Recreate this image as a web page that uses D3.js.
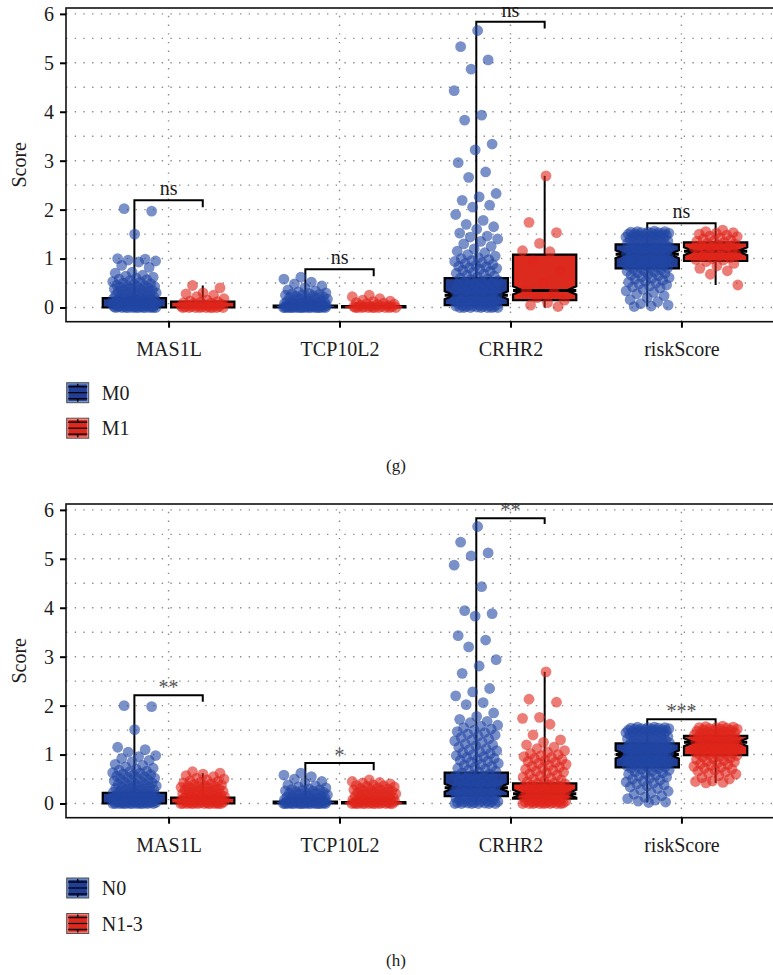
<!DOCTYPE html>
<html><head><meta charset="utf-8">
<script src="https://cdn.jsdelivr.net/npm/d3@7"></script>
<style>
body{margin:0;background:#fff}
svg{display:block}
</style>
</head><body>
<svg id="chart" width="773" height="975"></svg>
<script>
// ---------- data ----------
const categories = ["MAS1L","TCP10L2","CRHR2","riskScore"];
const yTicks = [0,1,2,3,4,5,6];

// Panel (g): M0 vs M1
const gGroups = ["M0","M1"];
const gM0_MAS1L = [2.02,1.97,1.50,1.00,0.99,0.97,0.95,0.93,0.86,0.82,0.72,0.70,0.66,0.64,0.62,0.60,0.58,0.57,0.55,0.53,0.52,0.50,0.49,0.48,0.46,0.45,0.44,0.43,0.42,0.41,0.40,0.39,0.38,0.37,0.36,0.35,0.34,0.33,0.32,0.31,0.30,0.29,0.28,0.27,0.26,0.25,0.24,0.23,0.22,0.21,0.20,0.20,0.19,0.18,0.18,0.17,0.16,0.16,0.15,0.15,0.14,0.14,0.13,0.13,0.12,0.12,0.11,0.11,0.10,0.10,0.09,0.09,0.08,0.08,0.07,0.07,0.06,0.06,0.05,0.05,0.05,0.04,0.04,0.04,0.03,0.03,0.03,0.02,0.02,0.02,0.01,0.01,0.01,0.00,0.00,0.00,0.00,0.00,0.00,0.00,0.00,0.00,0.00,0.00,0.00];
const gM1_MAS1L = [0.45,0.40,0.30,0.28,0.25,0.22,0.18,0.15,0.13,0.12,0.11,0.10,0.09,0.08,0.07,0.06,0.05,0.05,0.04,0.03,0.03,0.02,0.02,0.01,0.01,0.00,0.00,0.00,0.00,0.00,0.00,0.00,0.00,0.00];
const gM0_TCP10L2 = [0.62,0.58,0.52,0.48,0.44,0.40,0.36,0.34,0.32,0.30,0.29,0.28,0.27,0.26,0.25,0.24,0.23,0.22,0.21,0.20,0.19,0.18,0.17,0.16,0.15,0.14,0.13,0.12,0.12,0.11,0.10,0.10,0.09,0.09,0.08,0.08,0.07,0.07,0.06,0.06,0.05,0.05,0.04,0.04,0.03,0.03,0.03,0.02,0.02,0.02,0.01,0.01,0.01,0.00,0.00,0.00,0.00,0.00,0.00,0.00,0.00,0.00,0.00,0.00,0.00,0.00,0.00,0.00,0.00,0.00];
const gM1_TCP10L2 = [0.25,0.22,0.18,0.15,0.13,0.12,0.10,0.09,0.08,0.07,0.06,0.05,0.04,0.03,0.02,0.02,0.01,0.01,0.00,0.00,0.00,0.00,0.00,0.00,0.00,0.00,0.00,0.00];
const gM0_CRHR2 = [5.66,5.33,5.06,4.87,4.43,3.93,3.83,3.34,3.22,2.96,2.77,2.66,2.33,2.26,2.19,2.09,2.05,1.90,1.78,1.70,1.65,1.60,1.52,1.46,1.44,1.40,1.35,1.30,1.25,1.20,1.15,1.12,1.08,1.05,1.02,1.00,0.98,0.96,0.94,0.92,0.90,0.88,0.86,0.84,0.83,0.81,0.80,0.78,0.76,0.74,0.72,0.70,0.68,0.66,0.64,0.62,0.60,0.58,0.57,0.55,0.54,0.52,0.50,0.48,0.47,0.45,0.44,0.42,0.40,0.39,0.38,0.36,0.35,0.34,0.33,0.32,0.30,0.29,0.28,0.27,0.26,0.25,0.24,0.23,0.22,0.21,0.20,0.19,0.18,0.17,0.16,0.15,0.14,0.13,0.12,0.11,0.10,0.09,0.08,0.07,0.06,0.05,0.05,0.04,0.04,0.03,0.03,0.02,0.02,0.01,0.01,0.00,0.00,0.00,0.00,0.00,0.00,0.00];
const gM1_CRHR2 = [2.69,1.74,1.53,1.31,1.16,1.14,0.95,0.75,0.50,0.35,0.30,0.20,0.15,0.10,0.05,0.02];
const gM0_riskScore = [1.56,1.55,1.55,1.54,1.54,1.53,1.53,1.52,1.52,1.51,1.51,1.50,1.50,1.49,1.48,1.48,1.47,1.46,1.46,1.45,1.44,1.43,1.42,1.41,1.40,1.39,1.38,1.37,1.36,1.35,1.34,1.33,1.32,1.31,1.30,1.29,1.28,1.27,1.26,1.25,1.24,1.23,1.22,1.21,1.20,1.19,1.18,1.17,1.16,1.15,1.14,1.13,1.12,1.11,1.10,1.09,1.08,1.07,1.06,1.05,1.04,1.03,1.02,1.01,1.00,0.99,0.98,0.97,0.96,0.95,0.94,0.93,0.92,0.91,0.90,0.89,0.88,0.87,0.86,0.85,0.84,0.83,0.82,0.81,0.80,0.78,0.77,0.75,0.74,0.72,0.71,0.70,0.68,0.66,0.65,0.63,0.61,0.60,0.58,0.56,0.54,0.52,0.50,0.48,0.46,0.44,0.42,0.40,0.37,0.34,0.31,0.28,0.24,0.20,0.16,0.12,0.08,0.05,0.03,0.02];
const gM1_riskScore = [1.58,1.55,1.53,1.52,1.50,1.48,1.46,1.45,1.42,1.40,1.38,1.36,1.35,1.33,1.31,1.30,1.28,1.26,1.25,1.23,1.22,1.20,1.18,1.16,1.15,1.13,1.12,1.10,1.08,1.06,1.05,1.02,1.00,0.98,0.97,0.94,0.90,0.85,0.80,0.75,0.68,0.46];
// box stats per category: [lower whisker, q1, median, q3, upper whisker]
const gBoxM0 = [[0,0,0.09,0.19,0.45],[0,0,0.02,0.04,0.10],[0,0.05,0.25,0.60,1.40],[0.02,0.80,1.09,1.29,1.55]];
const gBoxM1 = [[0,0,0.06,0.12,0.45],[0,0,0.01,0.03,0.07],[0,0.15,0.35,1.08,2.69],[0.46,0.95,1.15,1.33,1.58]];
const gBracketY = [2.19,0.78,5.84,1.72];
const gBracketLeftEnd = [0.19,0.04,0.60,1.58];
const gBracketRightEnd = [2.05,0.64,5.70,1.58];
const gSig = ["ns","ns","ns","ns"];

// Panel (h): N0 vs N1-3
const hGroups = ["N0","N1-3"];
const hN0_MAS1L = [2.00,1.98,1.51,1.15,1.10,1.05,0.98,0.96,0.92,0.88,0.85,0.80,0.78,0.75,0.72,0.70,0.68,0.66,0.65,0.63,0.62,0.60,0.59,0.58,0.56,0.55,0.54,0.52,0.51,0.50,0.48,0.47,0.46,0.44,0.43,0.42,0.40,0.39,0.38,0.37,0.36,0.35,0.34,0.33,0.32,0.31,0.30,0.29,0.28,0.27,0.26,0.25,0.24,0.23,0.22,0.21,0.20,0.20,0.19,0.18,0.18,0.17,0.16,0.16,0.15,0.15,0.14,0.14,0.13,0.13,0.12,0.12,0.11,0.11,0.10,0.10,0.09,0.09,0.08,0.08,0.07,0.07,0.06,0.06,0.05,0.05,0.05,0.04,0.04,0.04,0.03,0.03,0.03,0.02,0.02,0.02,0.01,0.01,0.01,0.00,0.00,0.00,0.00,0.00,0.00,0.00,0.00,0.00,0.00,0.00,0.00];
const hN13_MAS1L = [0.65,0.62,0.60,0.57,0.55,0.52,0.50,0.48,0.46,0.45,0.43,0.42,0.40,0.39,0.38,0.37,0.36,0.35,0.34,0.33,0.32,0.31,0.30,0.29,0.28,0.27,0.26,0.25,0.24,0.23,0.22,0.21,0.20,0.19,0.18,0.18,0.17,0.16,0.15,0.15,0.14,0.13,0.13,0.12,0.11,0.11,0.10,0.10,0.09,0.09,0.08,0.08,0.07,0.07,0.06,0.06,0.05,0.05,0.04,0.04,0.03,0.03,0.02,0.02,0.01,0.01,0.00,0.00,0.00,0.00,0.00,0.00,0.00,0.00,0.00,0.00,0.00,0.00];
const hN0_TCP10L2 = [0.62,0.58,0.55,0.50,0.45,0.42,0.38,0.36,0.34,0.32,0.30,0.29,0.28,0.27,0.26,0.25,0.24,0.23,0.22,0.21,0.20,0.19,0.18,0.17,0.16,0.15,0.14,0.13,0.12,0.12,0.11,0.10,0.10,0.09,0.09,0.08,0.08,0.07,0.07,0.06,0.06,0.05,0.05,0.04,0.04,0.03,0.03,0.03,0.02,0.02,0.02,0.01,0.01,0.01,0.00,0.00,0.00,0.00,0.00,0.00,0.00,0.00,0.00,0.00,0.00,0.00,0.00,0.00,0.00,0.00];
const hN13_TCP10L2 = [0.48,0.45,0.43,0.42,0.40,0.38,0.37,0.36,0.35,0.34,0.32,0.31,0.30,0.29,0.28,0.27,0.26,0.25,0.24,0.23,0.22,0.21,0.20,0.19,0.18,0.17,0.16,0.15,0.14,0.13,0.12,0.11,0.10,0.09,0.08,0.08,0.07,0.07,0.06,0.06,0.05,0.05,0.04,0.04,0.03,0.03,0.02,0.02,0.01,0.01,0.00,0.00,0.00,0.00,0.00,0.00,0.00,0.00,0.00,0.00,0.00,0.00];
const hN0_CRHR2 = [5.66,5.34,5.12,5.06,4.87,4.43,3.94,3.88,3.83,3.43,3.34,3.20,2.94,2.81,2.66,2.35,2.28,2.20,2.06,2.02,1.85,1.78,1.72,1.68,1.65,1.60,1.58,1.55,1.52,1.50,1.47,1.45,1.42,1.40,1.38,1.35,1.32,1.30,1.28,1.25,1.22,1.20,1.18,1.15,1.12,1.10,1.08,1.06,1.04,1.02,1.00,0.98,0.96,0.94,0.92,0.90,0.88,0.86,0.84,0.82,0.80,0.78,0.76,0.74,0.72,0.70,0.68,0.66,0.64,0.62,0.60,0.58,0.56,0.54,0.52,0.50,0.48,0.46,0.44,0.42,0.40,0.38,0.36,0.35,0.34,0.33,0.32,0.31,0.30,0.29,0.28,0.27,0.26,0.25,0.24,0.23,0.22,0.21,0.20,0.19,0.18,0.17,0.16,0.15,0.14,0.13,0.12,0.11,0.10,0.09,0.08,0.07,0.06,0.05,0.04,0.04,0.03,0.03,0.02,0.02,0.01,0.01,0.00,0.00,0.00,0.00,0.00,0.00];
const hN13_CRHR2 = [2.69,2.13,2.07,1.76,1.74,1.62,1.40,1.30,1.25,1.20,1.15,1.12,1.08,1.05,1.02,1.00,0.98,0.96,0.94,0.92,0.90,0.88,0.86,0.84,0.82,0.80,0.78,0.76,0.74,0.72,0.70,0.68,0.66,0.64,0.62,0.60,0.58,0.56,0.54,0.52,0.50,0.48,0.46,0.44,0.42,0.41,0.40,0.38,0.37,0.36,0.35,0.34,0.33,0.32,0.31,0.30,0.29,0.28,0.27,0.26,0.25,0.24,0.23,0.22,0.21,0.20,0.19,0.18,0.17,0.16,0.15,0.14,0.13,0.12,0.11,0.10,0.09,0.08,0.07,0.06,0.05,0.05,0.04,0.04,0.03,0.03,0.02,0.02,0.01,0.01,0.00,0.00,0.00,0.00,0.00,0.00,0.00,0.00];
const hN0_riskScore = [1.56,1.56,1.55,1.55,1.54,1.54,1.53,1.53,1.52,1.52,1.51,1.51,1.50,1.50,1.49,1.48,1.48,1.47,1.46,1.46,1.45,1.44,1.43,1.42,1.41,1.40,1.39,1.38,1.37,1.36,1.35,1.34,1.33,1.32,1.31,1.30,1.29,1.28,1.27,1.26,1.25,1.24,1.23,1.22,1.21,1.20,1.19,1.18,1.17,1.16,1.15,1.14,1.13,1.12,1.11,1.10,1.09,1.08,1.07,1.06,1.05,1.04,1.03,1.02,1.01,1.00,0.99,0.98,0.97,0.96,0.95,0.94,0.93,0.92,0.91,0.90,0.89,0.88,0.87,0.86,0.85,0.84,0.83,0.82,0.81,0.80,0.79,0.78,0.77,0.76,0.75,0.74,0.73,0.72,0.71,0.70,0.68,0.66,0.65,0.63,0.61,0.60,0.58,0.56,0.54,0.52,0.50,0.48,0.46,0.44,0.42,0.40,0.38,0.36,0.34,0.31,0.28,0.25,0.22,0.19,0.16,0.13,0.10,0.07,0.05,0.03,0.02];
const hN13_riskScore = [1.58,1.57,1.56,1.55,1.55,1.54,1.53,1.52,1.52,1.51,1.50,1.49,1.48,1.47,1.46,1.45,1.44,1.43,1.42,1.41,1.40,1.39,1.38,1.37,1.36,1.35,1.34,1.33,1.32,1.31,1.30,1.29,1.28,1.27,1.26,1.25,1.24,1.23,1.22,1.21,1.20,1.19,1.18,1.17,1.16,1.15,1.14,1.13,1.12,1.11,1.10,1.09,1.08,1.07,1.06,1.05,1.04,1.03,1.02,1.01,1.00,0.99,0.98,0.96,0.95,0.93,0.92,0.90,0.88,0.86,0.85,0.83,0.81,0.80,0.78,0.76,0.74,0.72,0.70,0.68,0.66,0.64,0.62,0.60,0.57,0.53,0.50,0.46,0.45,0.43,0.42];
const hBoxN0 = [[0,0,0.10,0.22,0.50],[0,0,0.02,0.04,0.10],[0,0.15,0.32,0.63,1.40],[0.02,0.74,1.00,1.23,1.56]];
const hBoxN13 = [[0,0,0.06,0.12,0.62],[0,0,0.01,0.03,0.07],[0,0.10,0.20,0.41,2.69],[0.42,0.99,1.25,1.38,1.58]];
const hBracketY = [2.21,0.83,5.83,1.72];
const hBracketLeftEnd = [0.22,0.04,0.63,1.58];
const hBracketRightEnd = [2.08,0.68,5.71,1.58];
const hSig = ["**","*","**","***"];

// ---------- styles ----------
const FONT = "'Liberation Serif','Times New Roman',Times,serif";
const boxFill = ["#223f95","#dc2a1e"];
const pointFill = ["#2146a4","#e0241a"];
const keyBorder = ["#7d9cc8","#f08a86"];

const svg = d3.select("#chart");

function drawPanel(cfg) {
  const off = cfg.offset;
  const left = 66, right = 784, plotTop = 8 + off, plotBottom = 321.7 + off;
  const x = d3.scalePoint().domain(categories).range([left, right]).padding(0.6);
  const step = x.step();
  const y = d3.scaleLinear().domain([-0.29, 6.12]).range([plotBottom, plotTop]);
  const g = svg.append("g");

  // grid
  g.selectAll(".hg").data(d3.range(0, 6.01, 0.5)).join("line")
    .attr("x1", left).attr("x2", right).attr("y1", d => y(d)).attr("y2", d => y(d))
    .attr("stroke", "#8c8c8c").attr("stroke-width", 1.4).attr("stroke-dasharray", "1.4,7.3");
  g.selectAll(".vg").data(categories).join("line")
    .attr("x1", d => x(d)).attr("x2", d => x(d)).attr("y1", plotBottom).attr("y2", plotTop)
    .attr("stroke", "#8c8c8c").attr("stroke-width", 1.4).attr("stroke-dasharray", "1.4,7.3");

  const dodge = 0.2 * step, bw = 0.37 * step, jit = 0.13 * step;

  // boxes
  cfg.boxes.forEach((boxes, gi) => {
    boxes.forEach((b, ci) => {
      const cx = x(categories[ci]) + (gi === 0 ? -dodge : dodge);
      const [lo, q1, med, q3, hi] = b;
      g.append("line").attr("x1", cx).attr("x2", cx).attr("y1", y(q3)).attr("y2", y(hi))
        .attr("stroke", "#000").attr("stroke-width", 2);
      g.append("line").attr("x1", cx).attr("x2", cx).attr("y1", y(q1)).attr("y2", y(lo))
        .attr("stroke", "#000").attr("stroke-width", 2);
      const x0 = cx - bw / 2, x1 = cx + bw / 2;
      const yt = y(q3), yb = y(q1), ym = y(med);
      const hgt = yb - yt;
      const ind = 0.15 * bw;
      let path;
      if (hgt > 12) {
        const nh = 4;
        path = `M${x0},${yt}L${x1},${yt}L${x1},${ym - nh}L${x1 - ind},${ym}L${x1},${ym + nh}L${x1},${yb}L${x0},${yb}L${x0},${ym + nh}L${x0 + ind},${ym}L${x0},${ym - nh}Z`;
      } else {
        path = `M${x0},${yt}L${x1},${yt}L${x1},${yb}L${x0},${yb}Z`;
      }
      g.append("path").attr("d", path).attr("fill", boxFill[gi]).attr("stroke", "#000")
        .attr("stroke-width", 2.2).attr("stroke-linejoin", "miter");
      g.append("line").attr("x1", hgt > 12 ? x0 : x0 + 3).attr("x2", hgt > 12 ? x1 : x1 - 3)
        .attr("y1", ym).attr("y2", ym)
        .attr("stroke", hgt > 12 ? "#000" : boxFill[gi]).attr("stroke-width", hgt > 12 ? 3 : 1.6);
    });
  });

  // brackets
  categories.forEach((c, ci) => {
    const xl = x(c) - dodge, xr = x(c) + dodge;
    const yb = y(cfg.bracketY[ci]);
    g.append("path")
      .attr("d", `M${xl},${y(cfg.bracketLeft[ci])}L${xl},${yb}L${xr},${yb}L${xr},${y(cfg.bracketRight[ci])}`)
      .attr("fill", "none").attr("stroke", "#000").attr("stroke-width", 2);
  });

  // points
  cfg.points.forEach((grp, gi) => {
    grp.forEach((vals, ci) => {
      const cx = x(categories[ci]) + (gi === 0 ? -dodge : dodge);
      g.append("g").selectAll("circle").data(vals).join("circle")
        .attr("cx", (d, i) => cx + (((i * 0.6180339887 + 0.27 + ci * 0.13) % 1) - 0.5) * 2 * jit)
        .attr("cy", d => y(d))
        .attr("r", 5.4)
        .attr("fill", pointFill[gi]).attr("fill-opacity", 0.6);
    });
  });

  // significance labels
  categories.forEach((c, ci) => {
    const isStar = cfg.sig[ci].indexOf("*") >= 0;
    g.append("text").attr("x", x(c)).attr("y", y(cfg.bracketY[ci]) - (isStar ? 1 : 5))
      .attr("text-anchor", "middle").style("font-size", "20px").style("font-family", FONT)
      .style("fill", isStar ? "#555" : "#1c1c1c")
      .text(cfg.sig[ci]);
  });

  // panel border
  g.append("rect").attr("x", left).attr("y", plotTop).attr("width", right - left).attr("height", plotBottom - plotTop)
    .attr("fill", "none").attr("stroke", "#111").attr("stroke-width", 1.6);

  // axes
  const ya = g.append("g").attr("transform", `translate(${left},0)`)
    .call(d3.axisLeft(y).tickValues(yTicks).tickSize(6).tickPadding(6).tickFormat(d3.format("d")));
  ya.select(".domain").remove();
  ya.selectAll("line").attr("stroke", "#000").attr("stroke-width", 2);
  ya.selectAll("text").style("font-size", "20px").style("font-family", FONT).style("fill", "#1c1c1c");

  const xa = g.append("g").attr("transform", `translate(0,${plotBottom})`)
    .call(d3.axisBottom(x).tickSize(6).tickPadding(14));
  xa.select(".domain").remove();
  xa.selectAll("line").attr("stroke", "#000").attr("stroke-width", 2);
  xa.selectAll("text").style("font-size", "20px").style("font-family", FONT).style("fill", "#1c1c1c");

  // y title
  g.append("text").attr("transform", `translate(26,${(plotTop + plotBottom) / 2}) rotate(-90)`)
    .attr("text-anchor", "middle").style("font-size", "20px").style("font-family", FONT).style("fill", "#1c1c1c").text("Score");

  // legend
  cfg.groups.forEach((name, gi) => {
    const ky = cfg.legendY + gi * 35.5;
    const kx = 66.7, kw = 22, kh = 20;
    const lg = g.append("g");
    lg.append("rect").attr("x", kx).attr("y", ky).attr("width", kw).attr("height", kh)
      .attr("fill", boxFill[gi]).attr("stroke", "#555").attr("stroke-width", 1);
    lg.append("rect").attr("x", kx + 1.2).attr("y", ky + 1.2).attr("width", kw - 2.4).attr("height", kh - 2.4)
      .attr("fill", "none").attr("stroke", keyBorder[gi]).attr("stroke-width", 1.2);
    [4, 10, 16].forEach(dy => {
      lg.append("line").attr("x1", kx + 1.5).attr("x2", kx + kw - 1.5).attr("y1", ky + dy).attr("y2", ky + dy)
        .attr("stroke", "#000").attr("stroke-width", dy === 10 ? 1.2 : 1.4);
    });
    lg.append("line").attr("x1", kx + kw / 2).attr("x2", kx + kw / 2).attr("y1", ky + 1).attr("y2", ky + 4)
      .attr("stroke", "#000").attr("stroke-width", 1.4);
    lg.append("line").attr("x1", kx + kw / 2).attr("x2", kx + kw / 2).attr("y1", ky + 16).attr("y2", ky + 19)
      .attr("stroke", "#000").attr("stroke-width", 1.4);
    lg.append("text").attr("x", 101.7).attr("y", ky + kh / 2 + 7)
      .style("font-size", "20px").style("font-family", FONT).style("fill", "#1c1c1c").text(name);
  });

  svg.append("text").attr("x", 386).attr("y", cfg.captionY)
    .style("font-size", "17px").style("font-family", FONT).style("fill", "#1c1c1c").text(cfg.caption);
}

drawPanel({
  offset: 0,
  groups: gGroups,
  boxes: [gBoxM0, gBoxM1],
  points: [[gM0_MAS1L, gM0_TCP10L2, gM0_CRHR2, gM0_riskScore], [gM1_MAS1L, gM1_TCP10L2, gM1_CRHR2, gM1_riskScore]],
  bracketY: gBracketY, bracketLeft: gBracketLeftEnd, bracketRight: gBracketRightEnd, sig: gSig,
  legendY: 382.7, caption: "(g)", captionY: 471
});
drawPanel({
  offset: 496,
  groups: hGroups,
  boxes: [hBoxN0, hBoxN13],
  points: [[hN0_MAS1L, hN0_TCP10L2, hN0_CRHR2, hN0_riskScore], [hN13_MAS1L, hN13_TCP10L2, hN13_CRHR2, hN13_riskScore]],
  bracketY: hBracketY, bracketLeft: hBracketLeftEnd, bracketRight: hBracketRightEnd, sig: hSig,
  legendY: 878, caption: "(h)", captionY: 966
});
</script>
</body></html>
